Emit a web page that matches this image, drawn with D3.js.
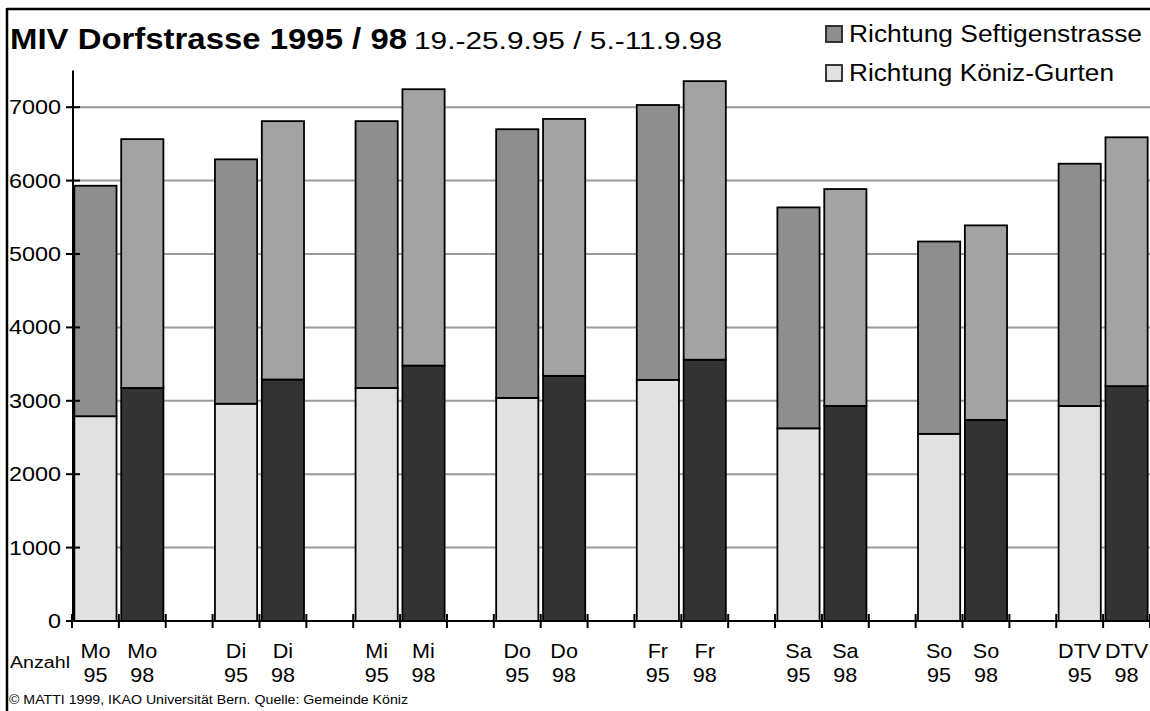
<!DOCTYPE html>
<html>
<head>
<meta charset="utf-8">
<script src="https://cdn.jsdelivr.net/npm/d3@7"></script>
<style>
  html, body { margin: 0; padding: 0; background: #fff; }
  svg { display: block; font-family: "Liberation Sans", Arial, sans-serif; }
</style>
</head>
<body>
<svg id="chart" width="1150" height="711"></svg>
<script>
// ---- data ----
const days = ["Mo", "Di", "Mi", "Do", "Fr", "Sa", "So", "DTV"];
const years = ["95", "98"];
// Richtung Köniz-Gurten (lower segment)
const koniz95 = [2790, 2960, 3175, 3040, 3285, 2625, 2550, 2930];
const koniz98 = [3175, 3290, 3480, 3340, 3560, 2930, 2740, 3200];
// Richtung Seftigenstrasse (upper segment)
const seft95 = [3140, 3330, 3635, 3660, 3745, 3010, 2620, 3300];
const seft98 = [3390, 3520, 3765, 3500, 3795, 2955, 2650, 3390];
const yTicks = [0, 1000, 2000, 3000, 4000, 5000, 6000, 7000];
const seriesNames = ["Richtung Seftigenstrasse", "Richtung Köniz-Gurten"];
const titleText = "MIV Dorfstrasse 1995 / 98";
const subtitleText = "19.-25.9.95 / 5.-11.9.98";
const footerText = "© MATTI 1999, IKAO Universität Bern. Quelle: Gemeinde Köniz";

// ---- colours ----
const colors = {
  "95": { koniz: "#e1e1e1", seft: "#8e8e8e" },
  "98": { koniz: "#333333", seft: "#a3a3a3" }
};

// ---- build slots (with blank gaps between days) ----
const slots = [];
const bars = [];
days.forEach((d, i) => {
  years.forEach((y) => {
    const key = d + " " + y;
    slots.push(key);
    const k = y === "95" ? koniz95[i] : koniz98[i];
    const s = y === "95" ? seft95[i] : seft98[i];
    bars.push({ key, day: d, year: y, koniz: k, seft: s });
  });
  if (i < days.length - 1) slots.push("gap" + i);
});

const svg = d3.select("#chart");

const x = d3.scaleBand().domain(slots).range([72, 1150]).paddingInner(0.1).paddingOuter(0.05);
const y = d3.scaleLinear().domain([0, 7500]).range([621, 70.5]);
const step = x.step();
const off = (step - x.bandwidth()) / 2;

// outer frame
svg.append("line").attr("x1", 7).attr("x2", 1150).attr("y1", 9).attr("y2", 9)
  .attr("stroke", "#000").attr("stroke-width", 2.5);
svg.append("line").attr("x1", 7).attr("x2", 7).attr("y1", 8).attr("y2", 711)
  .attr("stroke", "#000").attr("stroke-width", 2.5);

// gridlines
svg.append("g").selectAll("line").data(yTicks.filter(t => t > 0)).join("line")
  .attr("x1", 72).attr("x2", 1150)
  .attr("y1", d => y(d)).attr("y2", d => y(d))
  .attr("stroke", "#9a9a9a").attr("stroke-width", 2);

// bars
const g = svg.append("g");
bars.forEach(b => {
  const bx = x(b.key);
  g.append("rect")
    .attr("x", bx).attr("width", x.bandwidth())
    .attr("y", y(b.koniz)).attr("height", y(0) - y(b.koniz))
    .attr("fill", colors[b.year].koniz).attr("stroke", "#000").attr("stroke-width", 1.8);
  g.append("rect")
    .attr("x", bx).attr("width", x.bandwidth())
    .attr("y", y(b.koniz + b.seft)).attr("height", y(b.koniz) - y(b.koniz + b.seft))
    .attr("fill", colors[b.year].seft).attr("stroke", "#000").attr("stroke-width", 1.8);
});

// y axis
svg.append("line").attr("x1", 73).attr("x2", 73).attr("y1", y(7500)).attr("y2", y(0))
  .attr("stroke", "#000").attr("stroke-width", 2);
const yt = svg.append("g");
yt.selectAll("line").data(yTicks).join("line")
  .attr("x1", 66).attr("x2", 80)
  .attr("y1", d => y(d)).attr("y2", d => y(d))
  .attr("stroke", "#000").attr("stroke-width", 2);
yt.selectAll("text").data(yTicks).join("text")
  .attr("x", 61).attr("y", d => y(d) + 7)
  .attr("text-anchor", "end").attr("font-size", 20).attr("fill", "#000")
  .attr("textLength", d => String(d).length * 13).attr("lengthAdjust", "spacingAndGlyphs")
  .text(d => d);

// x axis
svg.append("line").attr("x1", 66).attr("x2", 1150).attr("y1", y(0)).attr("y2", y(0))
  .attr("stroke", "#000").attr("stroke-width", 2.2);
const boundaries = slots.map(s => x(s) - off).concat([x(slots[slots.length - 1]) + x.bandwidth() + off]);
svg.append("g").selectAll("line").data(boundaries).join("line")
  .attr("x1", d => d).attr("x2", d => d)
  .attr("y1", y(0) - 7).attr("y2", y(0) + 7)
  .attr("stroke", "#000").attr("stroke-width", 2);

const xl = svg.append("g").attr("font-size", 20).attr("fill", "#000").attr("text-anchor", "middle");
bars.forEach(b => {
  const cx = x(b.key) + x.bandwidth() / 2;
  xl.append("text").attr("x", cx).attr("y", 658)
    .attr("transform", `translate(${cx},0) scale(1.08,1) translate(${-cx},0)`).text(b.day);
  xl.append("text").attr("x", cx).attr("y", 682)
    .attr("transform", `translate(${cx},0) scale(1.08,1) translate(${-cx},0)`).text(b.year);
});

svg.append("text").attr("x", 10).attr("y", 668).attr("font-size", 16)
  .attr("textLength", 60).attr("lengthAdjust", "spacingAndGlyphs").text("Anzahl");

// title
svg.append("text").attr("x", 10).attr("y", 49).attr("font-size", 29).attr("font-weight", "bold")
  .attr("textLength", 397).attr("lengthAdjust", "spacingAndGlyphs").text(titleText);
svg.append("text").attr("x", 414).attr("y", 49).attr("font-size", 23)
  .attr("textLength", 308).attr("lengthAdjust", "spacingAndGlyphs").text(subtitleText);

// legend
const legend = [
  { name: seriesNames[0], color: colors["95"].seft, y: 26, w: 293 },
  { name: seriesNames[1], color: colors["95"].koniz, y: 65, w: 265 }
];
legend.forEach(l => {
  svg.append("rect").attr("x", 826).attr("y", l.y).attr("width", 16).attr("height", 16)
    .attr("fill", l.color).attr("stroke", "#222").attr("stroke-width", 1.8);
  svg.append("text").attr("x", 849).attr("y", l.y + 16).attr("font-size", 23.5)
    .attr("textLength", l.w).attr("lengthAdjust", "spacingAndGlyphs").text(l.name);
});

// footer
svg.append("text").attr("x", 9).attr("y", 704).attr("font-size", 12.5).attr("fill", "#000")
  .attr("textLength", 399).attr("lengthAdjust", "spacingAndGlyphs").text(footerText);
</script>
</body>
</html>
